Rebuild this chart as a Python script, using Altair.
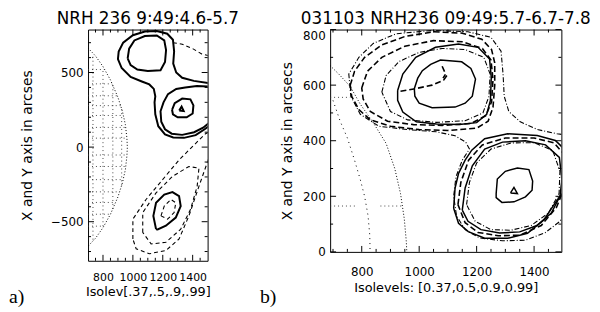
import altair as alt
import pandas as pd

# ---------------- Panel a ----------------
A_TITLE = "NRH 236 9:49:4.6-5.7"
A_XTITLE = "Isolev[.37,.5,.9,.99]"
A_YTITLE = "X and Y axis in arcses"
A_XDOMAIN = [700, 1500]
A_YDOMAIN = [-762, 788]
A_XMAJOR = [800, 1000, 1200, 1400]
A_XMINOR = [750, 850, 900, 950, 1050, 1100, 1150, 1250, 1300, 1350, 1450]
A_YMAJOR = [-500, 0, 500]
A_YMINOR = [-700, -600, -400, -300, -200, -100, 100, 200, 300, 400, 600, 700]

A_UP_IN = [(965, 595), (975, 660), (1010, 715), (1080, 745), (1160, 748), (1210, 715), (1222, 650),
           (1215, 570), (1185, 515), (1100, 510), (1030, 520), (985, 550), (965, 595)]
A_PEANUT = [(1520, 428), (1408, 444), (1330, 465), (1290, 500), (1270, 560), (1276, 642), (1268, 720),
            (1230, 760), (1160, 778), (1080, 775), (1000, 750), (935, 700), (905, 640), (900, 590),
            (925, 530), (985, 470), (1060, 440), (1110, 420), (1140, 390), (1150, 340), (1145, 300),
            (1150, 220), (1170, 140), (1215, 85), (1270, 65), (1342, 62), (1420, 80), (1480, 120), (1520, 150)]
A_RT_MID = [(1520, 405), (1428, 410), (1350, 400), (1290, 390), (1235, 355), (1205, 300), (1185, 240),
            (1190, 170), (1215, 120), (1260, 90), (1330, 82), (1410, 100), (1470, 130), (1520, 170)]
A_RT_IN = [(1262, 250), (1280, 295), (1330, 325), (1385, 320), (1405, 280), (1400, 225), (1360, 200),
           (1300, 200), (1268, 220), (1262, 250)]
A_RT_TRI = [(1310, 245), (1326, 272), (1340, 242), (1310, 245)]
A_LO_SOLID = [(1155, -550), (1137, -461), (1155, -373), (1210, -318), (1265, -302), (1309, -329),
              (1320, -395), (1287, -472), (1221, -527), (1166, -552), (1155, -550)]
A_LO_D1 = [(1000, -616), (1000, -483), (1088, -351), (1199, -218), (1309, -86), (1419, 24), (1486, 90),
           (1520, 105), (1520, -40), (1442, -263), (1375, -461), (1309, -616), (1221, -693), (1110, -715),
           (1022, -682), (1000, -616)]
A_LO_D2 = [(1066, -572), (1066, -439), (1155, -307), (1265, -196), (1375, -130), (1442, -141), (1430, -263),
           (1386, -417), (1320, -550), (1221, -638), (1122, -649), (1066, -572)]
A_LO_D3 = [(1188, -461), (1210, -395), (1254, -351), (1287, -373), (1276, -439), (1232, -483), (1188, -461)]
A_UP_DASH = [(1268, 700), (1330, 690), (1400, 660), (1460, 625), (1520, 610)]
A_LIMB = [(700, 664), (750, 611), (800, 540), (850, 450), (900, 334), (930, 240), (950, 150), (960, 60),
          (963, 0), (960, -60), (950, -150), (930, -240), (900, -334), (850, -450), (800, -540),
          (750, -611), (700, -664)]
A_GRID_Y = [600, 520, 424, 344, 278, 212, 132, 60, -53, -130, -218, -300, -371, -450, -530]
A_GRID_XEND = [749, 807, 861, 896, 919, 936, 951, 958, 959, 951, 935, 912, 885, 848, 800]
A_GRID_X = [733, 800, 866, 925]
A_GRID_YTOP = [620, 530, 414, 256]

# ---------------- Panel b ----------------
B_TITLE = "031103 NRH236 09:49:5.7-6.7-7.8"
B_XTITLE = "Isolevels: [0.37,0.5,0.9,0.99]"
B_YTITLE = "X and Y axis in arcsecs"
B_XDOMAIN = [690, 1495]
B_YDOMAIN = [0, 800]
B_XMAJOR = [800, 1000, 1200, 1400]
B_XMINOR = [700, 750, 850, 900, 950, 1050, 1100, 1150, 1250, 1300, 1350, 1450]
B_YMAJOR = [0, 200, 400, 600, 800]
B_YMINOR = [100, 300, 500, 700]

B_UP_S_IN = [(983, 587), (995, 625), (1011, 652), (1040, 675), (1074, 690), (1148, 684), (1180, 660),
             (1196, 622), (1185, 560), (1160, 535), (1125, 521), (1045, 519), (1000, 535), (985, 560), (983, 587)]
B_UP_S_OUT = [(925, 581), (943, 640), (988, 700), (1057, 736), (1137, 748), (1205, 736), (1245, 694),
              (1251, 628), (1248, 545), (1235, 495), (1200, 465), (1140, 458), (1060, 460), (990, 468),
              (943, 503), (925, 545), (925, 581)]
B_UP_D1 = [(760, 600), (775, 650), (810, 700), (870, 745), (950, 775), (1050, 792), (1150, 787), (1218, 765),
           (1252, 728), (1263, 680), (1263, 600), (1257, 520), (1240, 470), (1200, 445), (1100, 437),
           (1000, 440), (900, 452), (830, 475), (790, 512), (765, 560), (760, 600)]
B_UP_D2 = [(800, 590), (820, 650), (870, 700), (950, 740), (1050, 760), (1150, 756), (1220, 732), (1250, 690),
           (1257, 620), (1252, 540), (1232, 490), (1180, 462), (1080, 455), (980, 458), (890, 470),
           (830, 505), (805, 550), (800, 590)]
B_UP_D3 = [(870, 575), (885, 635), (930, 685), (1000, 718), (1080, 732), (1160, 728), (1225, 700),
           (1247, 640), (1243, 560), (1222, 500), (1160, 472), (1060, 466), (960, 475), (900, 505), (870, 575)]
B_UP_D4 = [(935, 578), (990, 588), (1045, 600), (1085, 618), (1100, 640)]
B_UP_CHECK = [(1080, 668), (1092, 640), (1083, 625)]
B_ENVELOPE = [(1530, 418), (1480, 425), (1412, 440), (1352, 468), (1312, 505), (1296, 560), (1292, 640),
              (1285, 722), (1250, 772), (1170, 792), (1050, 797), (920, 785), (840, 750), (790, 700),
              (755, 640), (762, 560), (795, 495), (860, 452), (960, 440), (1060, 432), (1125, 418),
              (1162, 395), (1175, 370), (1150, 330), (1128, 270), (1120, 200), (1130, 130), (1160, 80),
              (1210, 50), (1290, 40), (1370, 42), (1440, 70), (1490, 110), (1530, 170)]
B_LO_TRI = [(1318, 212), (1330, 232), (1342, 210), (1318, 212)]
B_LO_IN = [(1268, 210), (1272, 262), (1300, 290), (1342, 302), (1382, 296), (1395, 255), (1393, 222),
           (1370, 198), (1330, 180), (1288, 178), (1268, 195), (1268, 210)]
B_LO_S1 = [(1120, 157), (1125, 230), (1137, 282), (1160, 330), (1183, 366), (1228, 407), (1308, 425),
           (1411, 419), (1474, 401), (1505, 370), (1505, 220), (1480, 186), (1434, 115), (1377, 67),
           (1308, 49), (1228, 49), (1171, 73), (1137, 103), (1120, 157)]
B_LO_S2 = [(1150, 150), (1160, 230), (1185, 310), (1228, 370), (1290, 395), (1370, 400), (1440, 385),
           (1488, 340), (1497, 260), (1490, 200), (1460, 140), (1410, 95), (1350, 72), (1280, 68),
           (1215, 80), (1170, 110), (1150, 150)]
B_LO_D1 = [(1135, 170), (1145, 250), (1172, 330), (1220, 385), (1300, 410), (1400, 410), (1470, 392),
           (1505, 350), (1505, 230), (1478, 160), (1425, 95), (1350, 60), (1275, 58), (1205, 70),
           (1160, 105), (1135, 170)]
B_LO_DD = [(1165, 170), (1175, 250), (1200, 320), (1250, 370), (1320, 392), (1400, 393), (1465, 365),
           (1490, 290), (1487, 210), (1450, 140), (1390, 95), (1320, 78), (1250, 80), (1195, 110), (1165, 170)]
B_LIMB = [(690, 670), (720, 640), (760, 595), (794, 533), (840, 465), (885, 390), (915, 300), (935, 210),
          (948, 120), (955, 40), (957, 0)]
B_LON = [(700, 545), (725, 470), (750, 410), (775, 330), (795, 260), (810, 200), (822, 130), (828, 60), (829, 0)]
B_GRID_Y = [556, 165, 165]
B_GRID_X0 = [690, 690, 865]
B_GRID_X1 = [760, 785, 940]

PANEL_TAGS = ["a)", "b)"]

FONT = "DejaVu Sans"


def lines_df(groups):
    rows = []
    for gid, (style, pts) in enumerate(groups):
        for i, (x, y) in enumerate(pts):
            rows.append({"cid": gid, "style": style, "i": i, "x": x, "y": y})
    return pd.DataFrame(rows)


def panel(groups, rows_df, cols_df, xdom, ydom, w, h, title, xtitle, ytitle,
          xmaj, xmin, ymaj, ymin, tag, tag_dx, tag_y, xlabpad, xtitlepad, ytitlepad,
          xlabsize, styles, ylaboffset):
    xs = alt.Scale(domain=xdom, nice=False, zero=False)
    ys = alt.Scale(domain=ydom, nice=False, zero=False)
    xax = alt.Axis(values=xmaj, title=xtitle, labelPadding=xlabpad, titlePadding=xtitlepad,
                   titleFontSize=13, labelFontSize=xlabsize, format="d")
    yax = alt.Axis(values=ymaj, title=ytitle, labelPadding=5, titlePadding=ytitlepad,
                   titleFontSize=14, format="d", labelOffset=ylaboffset)
    X = alt.X("x:Q", scale=xs, axis=xax)
    Y = alt.Y("y:Q", scale=ys, axis=yax)

    df = lines_df(groups)
    layers = []
    grid_style = dict(clip=True, color="#333333", strokeWidth=0.9, strokeDash=[1, 3])
    if rows_df is not None:
        layers.append(alt.Chart(rows_df).mark_rule(**grid_style).encode(x=X, x2="x2:Q", y=Y))
    if cols_df is not None:
        layers.append(alt.Chart(cols_df).mark_rule(**grid_style).encode(x=X, y=Y, y2="y2:Q"))
    for style, props in styles.items():
        sub = df[df["style"] == style]
        if sub.empty:
            continue
        layers.append(alt.Chart(sub).mark_line(clip=True, color="black", **props)
                      .encode(x=X, y=Y, detail="cid:N", order="i:Q"))
    # inward ticks on all four sides
    for vals, L in ((xmaj, 6), (xmin, 3)):
        d = pd.DataFrame({"x": vals})
        layers.append(alt.Chart(d).mark_rule(color="black", strokeWidth=1)
                      .encode(x=X, y=alt.value(h), y2=alt.value(h - L)))
        layers.append(alt.Chart(d).mark_rule(color="black", strokeWidth=1)
                      .encode(x=X, y=alt.value(0), y2=alt.value(L)))
    for vals, L in ((ymaj, 6), (ymin, 3)):
        d = pd.DataFrame({"y": vals})
        layers.append(alt.Chart(d).mark_rule(color="black", strokeWidth=1)
                      .encode(y=Y, x=alt.value(0), x2=alt.value(L)))
        layers.append(alt.Chart(d).mark_rule(color="black", strokeWidth=1)
                      .encode(y=Y, x=alt.value(w), x2=alt.value(w - L)))
    layers.append(alt.Chart(pd.DataFrame({"t": [tag]}))
                  .mark_text(align="left", baseline="alphabetic", font="Liberation Serif", fontSize=20, color="black")
                  .encode(text="t:N", x=alt.value(tag_dx), y=alt.value(tag_y)))
    return alt.layer(*layers).properties(
        width=w, height=h,
        title=alt.TitleParams(text=title, font=FONT, fontSize=17, fontWeight="normal",
                              color="black", anchor="middle", offset=1))


A_STYLES = {
    "solid": dict(strokeWidth=2),
    "dash": dict(strokeWidth=1.1, strokeDash=[4, 3]),
    "dot": dict(strokeWidth=1, strokeDash=[1, 2]),
}
B_STYLES = {
    "solid": dict(strokeWidth=1.5),
    "dash": dict(strokeWidth=1.6, strokeDash=[6, 3]),
    "dashdot": dict(strokeWidth=1.1, strokeDash=[5, 2, 1, 2]),
    "dot": dict(strokeWidth=1, strokeDash=[1, 2]),
    "sparse": dict(strokeWidth=1, strokeDash=[1, 4]),
}

a_groups = [
    ("solid", A_UP_IN), ("solid", A_PEANUT), ("solid", A_RT_MID), ("solid", A_RT_IN), ("solid", A_RT_TRI),
    ("solid", A_LO_SOLID), ("dash", A_LO_D1), ("dash", A_LO_D2), ("dash", A_LO_D3), ("dash", A_UP_DASH),
    ("dot", A_LIMB),
]
a_rows = pd.DataFrame({"x": [A_XDOMAIN[0]] * len(A_GRID_Y), "x2": A_GRID_XEND, "y": A_GRID_Y})
a_cols = pd.DataFrame({"x": A_GRID_X, "y": [-v for v in A_GRID_YTOP], "y2": A_GRID_YTOP})

b_groups = [
    ("solid", B_UP_S_IN), ("solid", B_UP_S_OUT), ("dash", B_UP_D1), ("dash", B_UP_D2), ("dashdot", B_UP_D3),
    ("dash", B_UP_D4), ("dash", B_UP_CHECK), ("dashdot", B_ENVELOPE),
    ("solid", B_LO_TRI), ("solid", B_LO_IN), ("solid", B_LO_S1), ("solid", B_LO_S2),
    ("dash", B_LO_D1), ("dashdot", B_LO_DD), ("dot", B_LIMB), ("sparse", B_LON),
]
b_rows = pd.DataFrame({"x": B_GRID_X0, "x2": B_GRID_X1, "y": B_GRID_Y})

pa = panel(a_groups, a_rows, a_cols, A_XDOMAIN, A_YDOMAIN, 121, 234, A_TITLE, A_XTITLE, A_YTITLE,
           A_XMAJOR, A_XMINOR, A_YMAJOR, A_YMINOR, PANEL_TAGS[0], -80, 277, 11, 3, 16, 11, A_STYLES, 0)
pb = panel(b_groups, b_rows, None, B_XDOMAIN, B_YDOMAIN, 234, 225, B_TITLE, B_XTITLE, B_YTITLE,
           B_XMAJOR, B_XMINOR, B_YMAJOR, B_YMINOR, PANEL_TAGS[1], -71, 277, 15, 4, 8, 12, B_STYLES,
           {"condition": {"test": "datum.value == 800", "value": 6}, "value": 0})

chart = alt.hconcat(pa, pb, spacing=124, bounds="flush", padding=0).configure_view(
    stroke="black", strokeWidth=1
).configure_axis(
    labelFont=FONT, labelFontSize=12, labelColor="black", titleFont=FONT, titleFontWeight="normal",
    titleColor="black", ticks=False, tickSize=0, domain=False, grid=False, labelFlush=False, labelOverlap=False
)

chart.save("out.html", embed_options={"renderer": "svg", "actions": False})
